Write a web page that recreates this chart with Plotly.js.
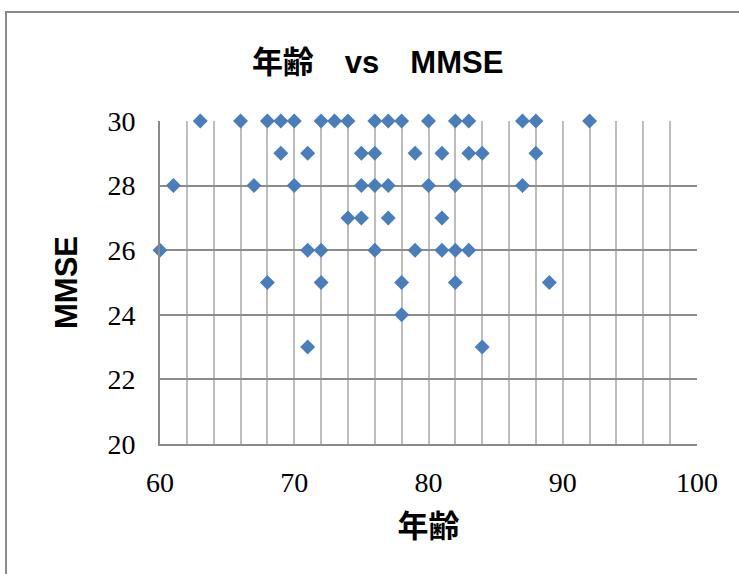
<!DOCTYPE html>
<html>
<head>
<meta charset="utf-8">
<script src="https://cdn.plot.ly/plotly-3.0.1.min.js"></script>
<style>html,body{margin:0;padding:0;background:#fff;}#chart{width:739px;height:574px;}</style>
</head>
<body>
<div id="chart"></div>
<script>
// 年齢 (age) and MMSE values
const age = [
  63, 66, 68, 69, 70, 72, 73, 74, 76, 77, 78, 80, 82, 83, 87, 88, 92,
  69, 71, 75, 76, 79, 81, 83, 84, 88,
  61, 67, 70, 75, 76, 77, 80, 82, 87,
  74, 75, 77, 81,
  60, 71, 72, 76, 79, 81, 82, 83,
  68, 72, 78, 82, 89,
  78,
  71, 84
];
const mmse = [
  30, 30, 30, 30, 30, 30, 30, 30, 30, 30, 30, 30, 30, 30, 30, 30, 30,
  29, 29, 29, 29, 29, 29, 29, 29, 29,
  28, 28, 28, 28, 28, 28, 28, 28, 28,
  27, 27, 27, 27,
  26, 26, 26, 26, 26, 26, 26, 26,
  25, 25, 25, 25, 25,
  24,
  23, 23
];
const xTickVals = [60, 70, 80, 90, 100];
const yTickVals = [20, 22, 24, 26, 28, 30];
const titleText = '年齢　vs　MMSE';
const xTitle = '年齢';
const yTitle = 'MMSE';

const boldFont = '"Liberation Sans", Arial, "Noto Sans CJK JP", sans-serif';
const serifFont = '"Liberation Serif", "Times New Roman", serif';

const trace = {
  type: 'scatter',
  mode: 'markers',
  x: age,
  y: mmse,
  cliponaxis: false,
  marker: { symbol: 'diamond', size: 11.5, color: '#4A7EBB', line: { width: 0 } },
  hoverinfo: 'x+y'
};

const layout = {
  width: 739,
  height: 574,
  margin: { l: 160, r: 42, t: 121, b: 130 },
  paper_bgcolor: '#ffffff',
  plot_bgcolor: '#ffffff',
  showlegend: false,
  title: {
    text: '<b>' + titleText + '</b>',
    font: { family: boldFont, size: 31, color: '#000' },
    xref: 'container', x: 0.511, xanchor: 'center',
    yref: 'container', y: 1 - 62 / 574, yanchor: 'middle'
  },
  xaxis: {
    range: [60, 100],
    tickmode: 'array',
    tickvals: xTickVals,
    ticks: '',
    showline: true, linecolor: '#8a8a8a', linewidth: 2,
    showgrid: true, gridcolor: '#bdbdbd', gridwidth: 2,
    minor: { dtick: 2, tick0: 60, showgrid: true, gridcolor: '#bdbdbd', gridwidth: 2, ticks: '' },
    zeroline: false,
    tickfont: { family: serifFont, size: 28, color: '#000' },
    ticklabelstandoff: 12,
    title: { text: '<b>' + xTitle + '</b>', font: { family: boldFont, size: 31, color: '#000' }, standoff: 19 },
    automargin: false,
    fixedrange: true
  },
  yaxis: {
    range: [20, 30],
    tickmode: 'array',
    tickvals: yTickVals,
    ticks: '',
    showline: true, linecolor: '#8a8a8a', linewidth: 2,
    showgrid: true, gridcolor: '#8c8c8c', gridwidth: 2,
    zeroline: false,
    tickfont: { family: serifFont, size: 28, color: '#000' },
    ticklabelstandoff: 17,
    title: { text: '<b>' + yTitle + '</b>', font: { family: boldFont, size: 31, color: '#000' }, standoff: 21 },
    automargin: false,
    fixedrange: true
  },
  shapes: [{
    type: 'rect', xref: 'paper', yref: 'paper',
    x0: (6 - 160) / 537, x1: 2,
    y0: -2, y1: (444 - 12) / 323,
    line: { color: '#8a8a8a', width: 2 },
    fillcolor: 'rgba(0,0,0,0)',
    layer: 'below'
  }]
};

Plotly.newPlot('chart', [trace], layout, { displayModeBar: false, staticPlot: true });
</script>
</body>
</html>
